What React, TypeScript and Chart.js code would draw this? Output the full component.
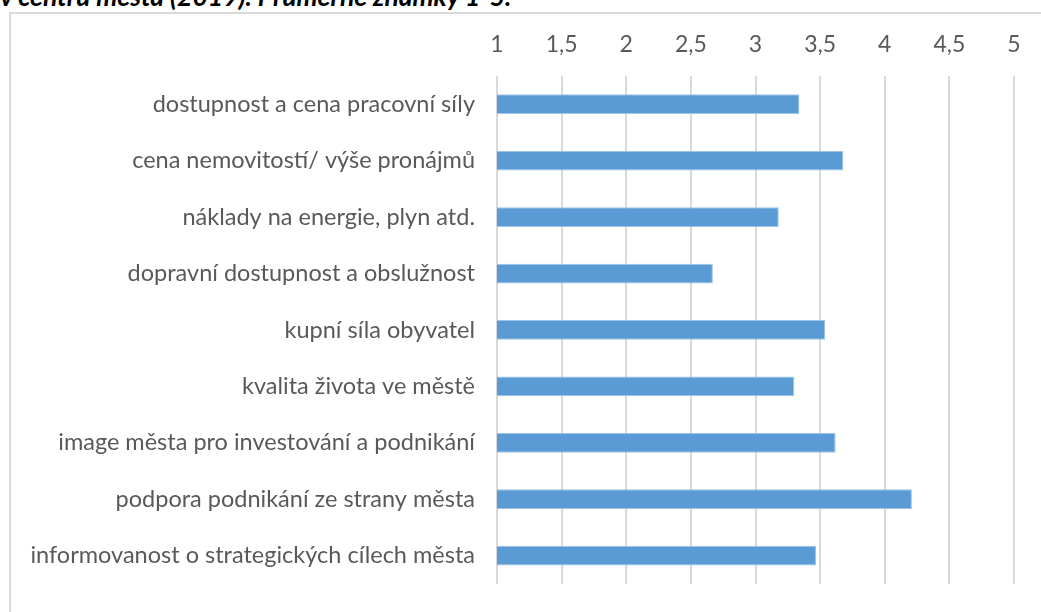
import React, { useEffect, useRef } from "react";
import { Chart, registerables } from "chart.js";

Chart.register(...registerables);

const categories = [
  "dostupnost a cena pracovní síly",
  "cena nemovitostí/ výše pronájmů",
  "náklady na energie, plyn atd.",
  "dopravní dostupnost a obslužnost",
  "kupní síla obyvatel",
  "kvalita života ve městě",
  "image města pro investování a podnikání",
  "podpora podnikání ze strany města",
  "informovanost o strategických cílech města",
];
const values = [3.34, 3.68, 3.18, 2.67, 3.54, 3.3, 3.62, 4.21, 3.47];
const titleText = "v centru města (2019). Průměrné známky 1-5.";

const FONT = "Lato, 'Open Sans', sans-serif";

export default function App() {
  const ref = useRef<HTMLCanvasElement>(null);
  useEffect(() => {
    if (!ref.current) return;
    const chart = new Chart(ref.current, {
      type: "bar",
      data: {
        labels: categories,
        datasets: [
          {
            data: values,
            backgroundColor: "#5b9bd5",
            borderColor: "#9dc3e6",
            borderWidth: 1,
            barPercentage: 0.7,
            categoryPercentage: 0.5,
          },
        ],
      },
      options: {
        indexAxis: "y",
        animation: false,
        responsive: false,
        layout: { padding: { left: 0, right: 33, top: 0, bottom: 31 } },
        plugins: { legend: { display: false }, tooltip: { enabled: false } },
        scales: {
          x: {
            position: "top",
            min: 1,
            max: 5,
            ticks: {
              stepSize: 0.5,
              color: "#595959",
              font: { family: FONT, size: 23 },
              padding: 18,
              callback: (v: any) => String(v).replace(".", ","),
            },
            grid: { color: "#d9d9d9", lineWidth: 2, drawTicks: false },
            border: { display: false },
            afterFit: (s: any) => {
              s.height = 62;
            },
          },
          y: {
            ticks: {
              color: "#595959",
              font: { family: FONT, size: 23.5 },
              padding: 22,
            },
            grid: { display: false, drawTicks: false },
            border: { display: false },
            afterFit: (s: any) => {
              s.width = 486;
            },
          },
        },
      },
    });
    return () => chart.destroy();
  }, []);
  return (
    <div
      style={{
        position: "fixed",
        left: 0,
        top: 0,
        width: 1041,
        height: 612,
        overflow: "hidden",
        background: "#fff",
      }}
    >
      <div
        style={{
          position: "absolute",
          left: 0,
          top: -20,
          fontFamily: FONT,
          fontWeight: "bold",
          fontStyle: "italic",
          fontSize: 26.5,
          color: "#000",
          whiteSpace: "nowrap",
        }}
      >
        {titleText}
      </div>
      <div
        style={{
          position: "absolute",
          left: 9,
          top: 12,
          width: 1040,
          height: 610,
          border: "2px solid #d9d9d9",
          boxSizing: "border-box",
          background: "#fff",
        }}
      >
        <canvas ref={ref} width={1036} height={606} style={{ display: "block" }} />
      </div>
    </div>
  );
}
